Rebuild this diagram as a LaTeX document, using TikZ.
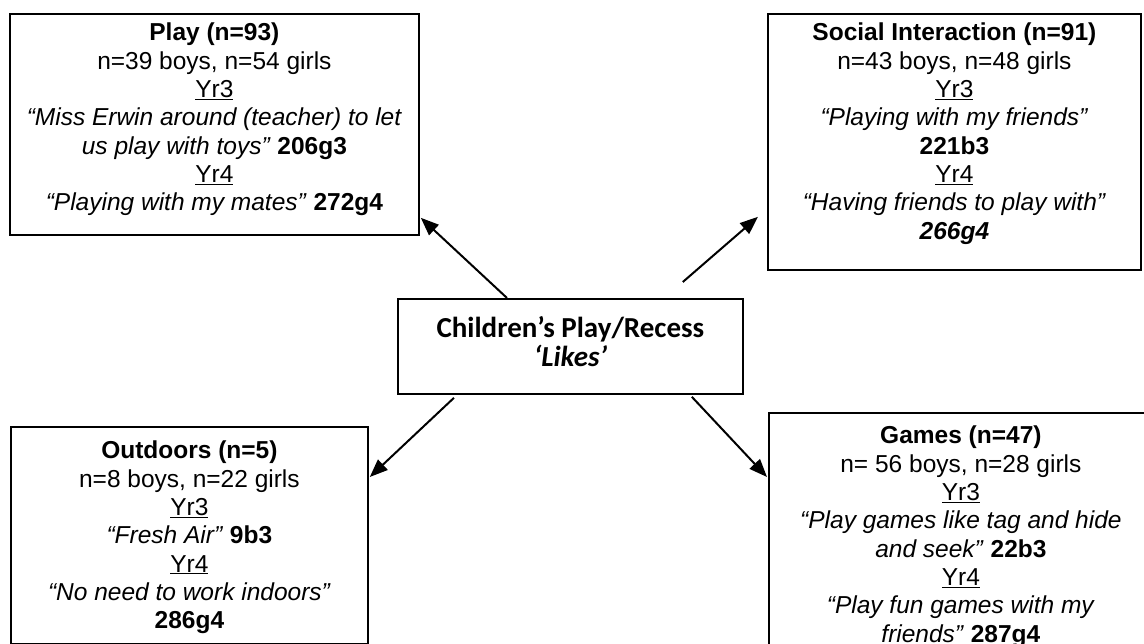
\documentclass[tikz,border=0pt]{standalone}
\usepackage{fontspec}
\setmainfont{Liberation Sans}
\newfontfamily\calfont{Carlito}
\usetikzlibrary{arrows.meta,positioning}
\begin{document}
\begin{tikzpicture}[x=1pt,y=-1pt,
  box/.style={draw, line width=1.8pt, rectangle, anchor=north west, inner sep=0pt},
  txt/.style={align=center, inner sep=0pt, font=\fontsize{24.5}{28.3}\selectfont, anchor=north},
  arr/.style={line width=2pt, -{Triangle[length=18pt,width=14pt]}}]
\useasboundingbox (0,0) rectangle (1144,644);
\clip (0,0) rectangle (1144,644);
\fill[white] (0,0) rectangle (1144,644);
% boxes
\node[box, minimum width=409pt, minimum height=221pt] (play) at (9,13) {};
\node[box, minimum width=373pt, minimum height=256pt] (social) at (767,13) {};
\node[box, minimum width=357pt, minimum height=217pt] (outdoors) at (10,426) {};
\node[box, minimum width=384pt, minimum height=250pt] (games) at (768,412) {};
\node[box, minimum width=345pt, minimum height=95pt] (ctr) at (397,298) {};
% texts
\node[txt] (playtxt) at ([yshift=-10pt]play.north) {\textbf{Play (n=93)}\\ n=39 boys, n=54 girls\\ \underline{Yr3}\\ \textit{“Miss Erwin around (teacher) to let}\\ \textit{us play with toys”} \textbf{206g3}\\ \underline{Yr4}\\ \textit{“Playing with my mates”} \textbf{272g4}};
\node[txt] (socialtxt) at ([yshift=-10pt]social.north) {\textbf{Social Interaction (n=91)}\\ n=43 boys, n=48 girls\\ \underline{Yr3}\\ \textit{“Playing with my friends”}\\ \textbf{221b3}\\ \underline{Yr4}\\ \textit{“Having friends to play with”}\\ \textbf{\textit{266g4}}};
\node[txt] (outdoorstxt) at ([yshift=-15pt]outdoors.north) {\textbf{Outdoors (n=5)}\\ n=8 boys, n=22 girls\\ \underline{Yr3}\\ \textit{“Fresh Air”} \textbf{9b3}\\ \underline{Yr4}\\ \textit{“No need to work indoors”}\\ \textbf{286g4}};
\node[txt] (gamestxt) at ([yshift=-14pt]games.north) {\textbf{Games (n=47)}\\ n= 56 boys, n=28 girls\\ \underline{Yr3}\\ \textit{“Play games like tag and hide}\\ \textit{and seek”} \textbf{22b3}\\ \underline{Yr4}\\ \textit{“Play fun games with my}\\ \textit{friends”} \textbf{287g4}};
\node[align=center, inner sep=0pt, font=\calfont\fontsize{29}{29}\selectfont\bfseries] (ctrtxt) at ([yshift=5pt]ctr.center) {Children’s Play/Recess\\ \textit{‘Likes’}};
% connectors
\coordinate (s1) at ([xshift=110pt]ctr.north west);
\coordinate (s2) at ([xshift=-61pt,yshift=16pt]ctr.north east);
\coordinate (s3) at ([xshift=57pt,yshift=-3pt]ctr.south west);
\coordinate (s4) at ([xshift=-52pt,yshift=-2pt]ctr.south east);
\draw[arr] (s1) -- ([xshift=1pt,yshift=18pt]play.south east);
\draw[arr] (s2) -- ([xshift=-9pt,yshift=54pt]social.south west);
\draw[arr] (s3) -- ([xshift=1pt,yshift=-51pt]outdoors.north east);
\draw[arr] (s4) -- ([xshift=-1pt,yshift=-65pt]games.north west);
\end{tikzpicture}
\end{document}
